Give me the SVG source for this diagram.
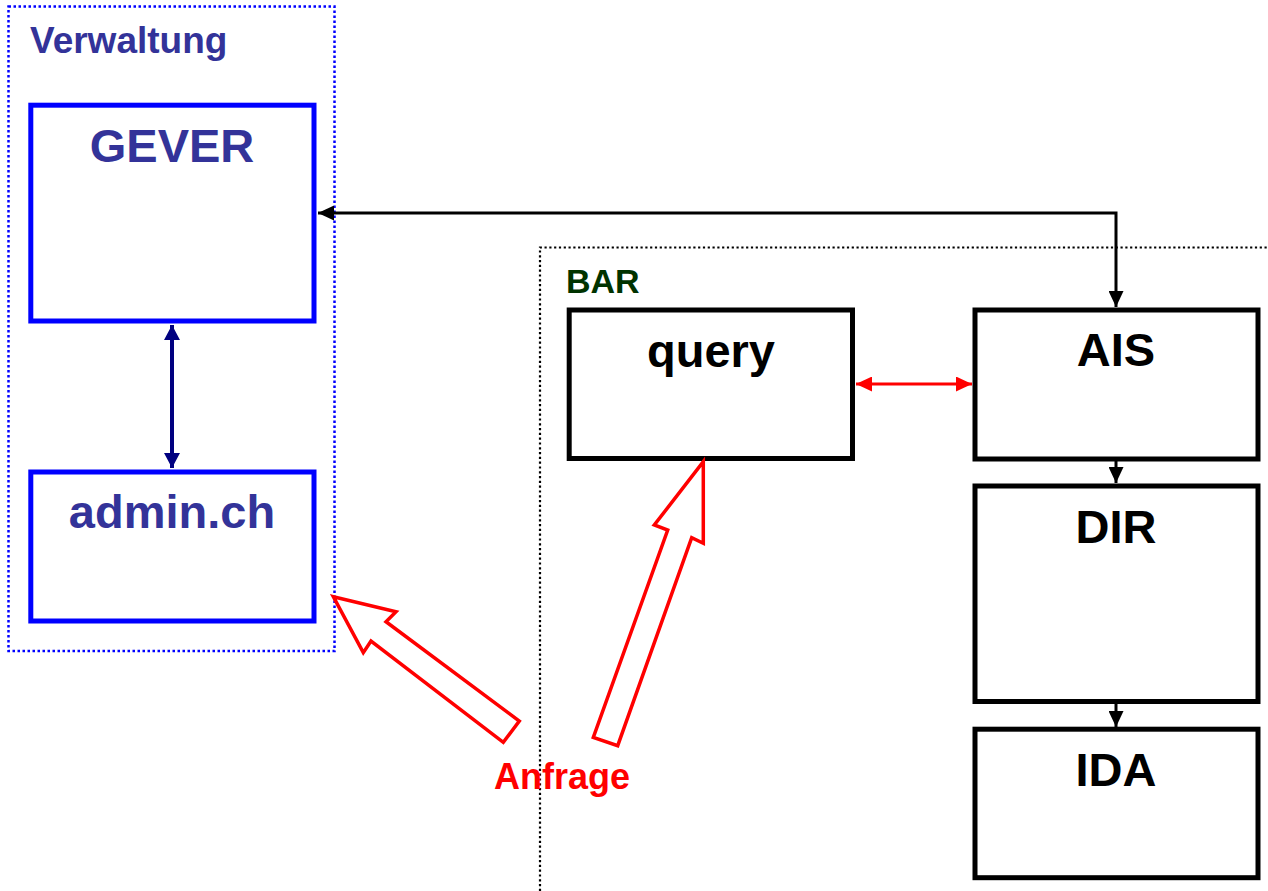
<svg xmlns="http://www.w3.org/2000/svg" width="1268" height="891" viewBox="0 0 1268 891">
<style>
text { font-family: "Liberation Sans", Arial, sans-serif; font-weight: bold; }
.blue { fill: #ffffff; stroke: #0000ff; stroke-width: 5; }
.blk { fill: #ffffff; stroke: #000000; stroke-width: 5; }
.lblB { fill: #333399; font-size: 47px; text-anchor: middle; }
.lblK { fill: #000000; font-size: 47px; text-anchor: middle; }
.conn { fill: none; stroke: #000000; stroke-width: 3; }
.block { fill: #ffffff; stroke: #ff0000; stroke-width: 3.5; stroke-linejoin: miter; }
</style>
<defs>
<marker id="ab" markerUnits="userSpaceOnUse" markerWidth="16" markerHeight="15" refX="16" refY="7.5" orient="auto-start-reverse" viewBox="0 0 16 15">
<path d="M0,0 L16,7.5 L0,15 z" fill="#000000"/>
</marker>
<marker id="ar" markerUnits="userSpaceOnUse" markerWidth="16" markerHeight="15" refX="16" refY="7.5" orient="auto-start-reverse" viewBox="0 0 16 15">
<path d="M0,0 L16,7.5 L0,15 z" fill="#ff0000"/>
</marker>
<marker id="an" markerUnits="userSpaceOnUse" markerWidth="15" markerHeight="16" refX="15" refY="8" orient="auto-start-reverse" viewBox="0 0 15 16">
<path d="M0,0 L15,8 L0,16 z" fill="#000080"/>
</marker>
</defs>
<rect width="1268" height="891" fill="#ffffff"/>

<g id="verwaltung">
<rect x="8.5" y="6.5" width="326" height="644.5" fill="none" stroke="#0000ff" stroke-width="2.5" stroke-dasharray="2.5,2.5"/>
<text x="30" y="53" style="fill:#333399;font-size:37px;">Verwaltung</text>
</g>

<g id="bar">
<path d="M540,891 L540,247.5 L1268,247.5" fill="none" stroke="#000000" stroke-width="2.2" stroke-dasharray="2.2,2.6"/>
<text x="566" y="293" style="fill:#003300;font-size:34px;">BAR</text>
</g>

<g id="connectors">
<polyline class="conn" points="318,213 1116,213 1116,307" marker-start="url(#ab)" marker-end="url(#ab)"/>
<line class="conn" x1="1116" y1="461" x2="1116" y2="483" marker-end="url(#ab)"/>
<line class="conn" x1="1116" y1="704" x2="1116" y2="727" marker-end="url(#ab)"/>
<line x1="856" y1="384" x2="972" y2="384" stroke="#ff0000" stroke-width="3" marker-start="url(#ar)" marker-end="url(#ar)"/>
<line x1="172" y1="325" x2="172" y2="468" stroke="#000080" stroke-width="4" marker-start="url(#an)" marker-end="url(#an)"/>
</g>

<g id="gever">
<rect class="blue" x="30.8" y="105.2" width="283.2" height="215.8"/>
<text class="lblB" x="172" y="162">GEVER</text>
</g>

<g id="admin">
<rect class="blue" x="30.8" y="472" width="283.2" height="149"/>
<text class="lblB" x="172" y="528">admin.ch</text>
</g>

<g id="query">
<rect class="blk" x="569.2" y="310" width="283.3" height="148.5"/>
<text class="lblK" x="711" y="367">query</text>
</g>

<g id="ais">
<rect class="blk" x="975" y="310" width="283" height="149"/>
<text class="lblK" x="1116" y="366">AIS</text>
</g>

<g id="dir">
<rect class="blk" x="975" y="486" width="283" height="215.5"/>
<text class="lblK" x="1116" y="543">DIR</text>
</g>

<g id="ida">
<rect class="blk" x="975" y="729.2" width="283" height="148.5"/>
<text class="lblK" x="1116" y="786">IDA</text>
</g>

<g id="anfrage">
<polygon class="block" points="333.3,596.7 396,611.7 386,621.7 519.3,721 503.3,742.3 371,641 363.3,652.7"/>
<polygon class="block" points="703.3,461.7 703.3,543.3 691.7,537.7 617.7,745.7 593.3,737.3 667.7,530 654.3,525"/>
<text x="562" y="789" style="fill:#ff0000;font-size:36px;text-anchor:middle;">Anfrage</text>
</g>
</svg>
